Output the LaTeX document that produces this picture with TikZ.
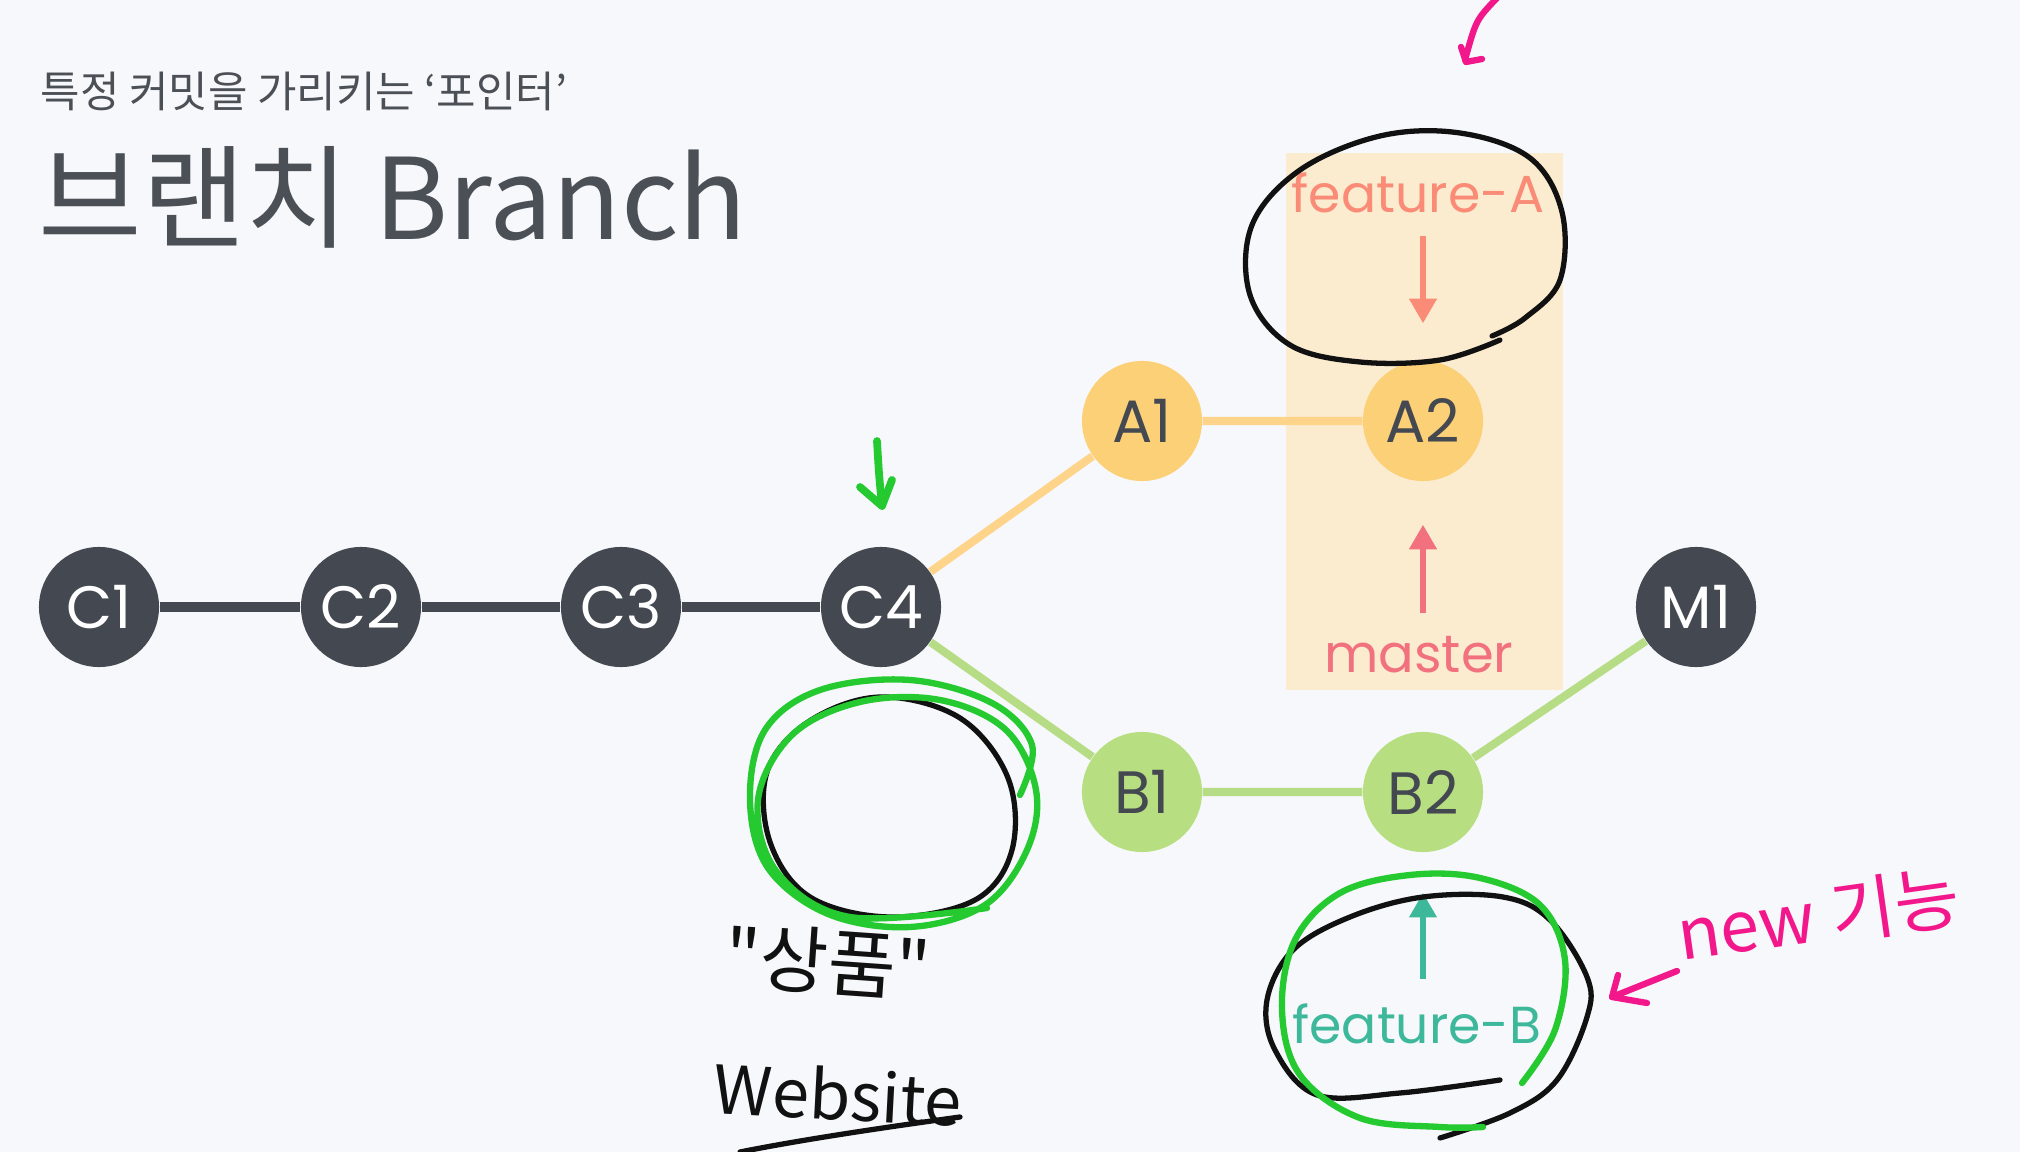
\documentclass[tikz,border=0pt]{standalone}
\usepackage{fontspec}
\newfontfamily\kr{Noto Sans CJK KR}
\newfontfamily\pop{Poppins}
\usetikzlibrary{backgrounds,arrows.meta}
\definecolor{bgc}{HTML}{F7F8FB}
\definecolor{ink}{HTML}{444951}
\definecolor{titlec}{HTML}{4B4F56}
\definecolor{amber}{HTML}{FCD077}
\definecolor{amberline}{HTML}{FDD489}
\definecolor{leaf}{HTML}{B7DE81}
\definecolor{leafline}{HTML}{B6DD85}
\definecolor{peach}{HTML}{FBEBCF}
\definecolor{salmon}{HTML}{F98B77}
\definecolor{rose}{HTML}{F2717F}
\definecolor{tealc}{HTML}{3DB89B}
\definecolor{penblack}{HTML}{111111}
\definecolor{pengreen}{HTML}{25C930}
\definecolor{penpink}{HTML}{F2188C}
\begin{document}
\begin{tikzpicture}[x=0.01cm,y=-0.01cm,
  commit/.style={circle,minimum size=1.2cm,inner sep=0pt,
    font=\pop\fontsize{17}{17}\selectfont},
  darkc/.style={commit,fill=ink,text=white},
  amberc/.style={commit,fill=amber,text=ink},
  leafc/.style={commit,fill=leaf,text=ink},
  label/.style={inner sep=0pt,anchor=base,font=\pop\fontsize{14.8}{15}\selectfont},
  ptr/.style={line width=1.7pt,-{Triangle[length=7pt,width=7.5pt]}},
  pen/.style={line width=1.5pt,line cap=round,line join=round},
  penk/.style={pen,draw=penblack},
  peng/.style={pen,draw=pengreen,line width=1.8pt},
  penp/.style={pen,draw=penpink,line width=1.8pt},
  scrawl/.style={inner sep=0pt,font=\kr},
]
\useasboundingbox (0,0) rectangle (2020,1152);

% heading
\node[inner sep=0pt,anchor=base west,text=titlec,font=\kr\fontsize{12.2}{13}\selectfont]
  (sub) at (40,108) {특정 커밋을 가리키는 ‘포인터’};
\node[inner sep=0pt,anchor=base west,text=titlec,font=\kr\fontsize{32}{33}\selectfont]
  (title) at (38,240) {브랜치 Branch};

% commits
\node[darkc]  (C1) at (99,607)   {C1};
\node[darkc]  (C2) at (361,607)  {C2};
\node[darkc]  (C3) at (621,607)  {C3};
\node[darkc]  (C4) at (881,607)  {C4};
\node[amberc] (A1) at (1142,421) {A1};
\node[amberc] (A2) at (1423,421) {A2};
\node[leafc]  (B1) at (1142,792) {B1};
\node[leafc]  (B2) at (1423,792) {B2};
\node[darkc]  (M1) at (1696,607) {M1};

% branch pointers
\node[label,text=salmon] (fa) at (1418,213) {feature-A};
\node[label,text=rose,font=\pop\fontsize{15}{16}\selectfont] (ms) at (1419,673) {master};
\node[label,text=tealc] (fb) at (1417,1043) {feature-B};

\begin{scope}[on background layer]
  \fill[bgc] (0,0) rectangle (2020,1152);
  \fill[peach] (1286,153) rectangle (1563,690);
  \draw[ink,line width=2.85pt] (C1) -- (C2) -- (C3) -- (C4);
  \draw[amberline,line width=2.3pt] (C4) -- (A1) -- (A2);
  \draw[leafline,line width=2.3pt] (C4) -- (B1) -- (B2) -- (M1);
\end{scope}

\draw[ptr,salmon,shorten <=6.3pt,shorten >=10.5pt] (A2 |- fa.south) -- (A2.north);
\draw[ptr,rose,shorten <=6.5pt,shorten >=12.2pt] (A2 |- ms.north) -- (A2.south);
\draw[ptr,tealc,shorten <=6.8pt,shorten >=11.4pt] (B2 |- fb.north) -- (B2.south);

% pen marks
\draw[penp] (1497,-2) .. controls (1476,20) .. (1465,60);
\draw[penp] (1461,47) -- (1466,62) -- (1482,59);

\draw[penk] plot[smooth,tension=0.6] coordinates {(1500,340) (1440,360) (1360,362) (1290,345) (1250,295) (1252,225) (1300,170) (1380,136) (1460,133) (1530,158) (1562,212) (1560,280) (1525,318) (1492,336)};

\draw[peng,line width=2.2pt] (877,441) .. controls (879,475) .. (882,506);
\draw[peng,line width=2.2pt] (860,487) -- (882,506) -- (892,480);

\draw[penk] plot[smooth cycle,tension=0.6] coordinates {(880,697) (960,718) (1008,778) (1012,850) (975,900) (890,917) (810,897) (770,842) (767,772) (808,722)};
\draw[peng] plot[smooth,tension=0.6] coordinates {(1020,795) (1032,745) (992,703) (910,680) (820,690) (765,730) (750,800) (768,868) (828,914) (910,927) (985,905) (1027,850) (1036,790) (1006,730) (940,700) (860,702) (792,735) (758,800) (777,872) (850,917) (987,908)};

\node[scrawl,text=penblack,font=\kr\fontsize{21}{22}\selectfont,rotate=-4] (goods) at (828,962) {"상품"};
\node[scrawl,text=penblack,font=\kr\fontsize{19}{20}\selectfont,rotate=-3] (site) at (838,1094) {Website};
\draw[penk] (960,1117) .. controls (880,1128) and (800,1140) .. (740,1152);

\draw[penk] plot[smooth,tension=0.6] coordinates {(1500,1080) (1400,1093) (1317,1095) (1275,1050) (1267,1000) (1293,950) (1350,917) (1423,897) (1503,897) (1550,920) (1587,977) (1587,1017) (1557,1080) (1510,1113) (1440,1138)};
\draw[peng] plot[smooth,tension=0.6] coordinates {(1522,1083) (1555,1030) (1565,960) (1540,905) (1480,878) (1410,875) (1340,893) (1295,940) (1282,1010) (1300,1075) (1360,1118) (1440,1127) (1483,1127)};

\draw[penp] (1677,971) -- (1612,997);
\draw[penp] (1618,975) -- (1612,997) -- (1647,1003);
\node[scrawl,text=penpink,font=\kr\fontsize{20}{21}\selectfont,rotate=8] (newf) at (1818,915) {new 기능};
\end{tikzpicture}
\end{document}
